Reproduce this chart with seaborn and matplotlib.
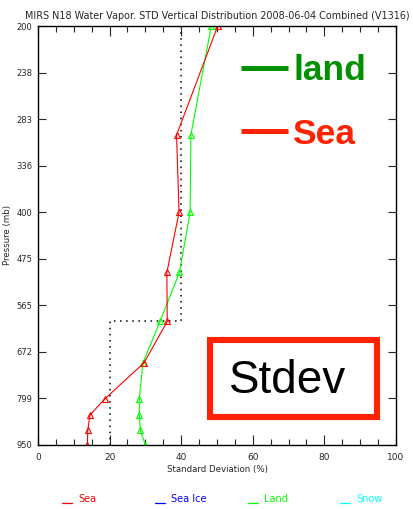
import matplotlib
matplotlib.use("Agg")
import matplotlib.pyplot as plt
from matplotlib.lines import Line2D
from matplotlib.patches import Rectangle
from matplotlib.ticker import FixedLocator, FixedFormatter, MultipleLocator, NullLocator
import seaborn as sns
import pandas as pd

# ---- data ----
pressure = [200, 300, 400, 500, 600, 700, 800, 850, 900, 950]
sea_std = [50.2, 38.7, 39.4, 36.0, 36.1, 29.6, 18.7, 14.5, 13.9, 13.8]
land_std = [48.4, 42.7, 42.5, 39.5, 34.1, 29.3, 28.3, 28.3, 28.6, 30.0]
ref_x = [40, 40, 20, 20]
ref_p = [200, 600, 600, 950]
y_ticks = [200, 238, 283, 336, 400, 475, 565, 672, 799, 950]
x_ticks = [0, 20, 40, 60, 80, 100]
legend_names = ["Sea", "Sea Ice", "Land", "Snow"]
legend_colors = ["#ff0000", "#0000ff", "#00ff00", "#00ffff"]

sns.set_style("white")
plt.rcParams["font.family"] = ["DejaVu Sans"]

fig = plt.figure(figsize=(4.14, 5.09), dpi=100)
ax = fig.add_axes([38/414, 1-445/509, (396-38)/414, (445-26)/509])

df_sea = pd.DataFrame({"std": sea_std, "p": pressure})
df_land = pd.DataFrame({"std": land_std, "p": pressure})

ax.plot(ref_x, ref_p, color="black", linestyle=(0, (1, 3)), linewidth=1.1)

sns.lineplot(data=df_land, x="std", y="p", sort=False, estimator=None, ax=ax,
             color="#00ff00", linewidth=0.8, marker="^", markersize=5,
             markerfacecolor="none", markeredgecolor="#00ff00", markeredgewidth=0.8)
sns.lineplot(data=df_sea, x="std", y="p", sort=False, estimator=None, ax=ax,
             color="#ff0000", linewidth=0.8, marker="^", markersize=5,
             markerfacecolor="none", markeredgecolor="#ff0000", markeredgewidth=0.8)

ax.set_yscale("log")
ax.set_ylim(950, 200)
ax.set_xlim(0, 100)
ax.yaxis.set_major_locator(FixedLocator(y_ticks))
ax.yaxis.set_major_formatter(FixedFormatter([str(t) for t in y_ticks]))
ax.yaxis.set_minor_locator(NullLocator())
ax.xaxis.set_major_locator(FixedLocator(x_ticks))
ax.xaxis.set_minor_locator(MultipleLocator(5))

ax.tick_params(axis="x", which="major", direction="in", length=7, width=0.8,
               top=True, bottom=True, labelsize=6.5, pad=6)
ax.tick_params(axis="x", which="minor", direction="in", length=4, width=0.8,
               top=True, bottom=True)
ax.tick_params(axis="y", which="major", direction="in", length=6, width=0.8,
               left=True, right=True, labelsize=6, pad=4)
for s in ax.spines.values():
    s.set_color("black")
    s.set_linewidth(1.0)

ax.set_xlabel("Standard Deviation (%)", fontsize=6.2, labelpad=2)
ax.set_ylabel("Pressure (mb)", fontsize=6.2)
ax.yaxis.set_label_coords(-0.072, 0.5)
ax.set_title("MIRS N18 Water Vapor. STD Vertical Distribution 2008-06-04 Combined (V1316)",
             fontsize=6.9, pad=5)

# bottom legend
lx = [62, 155, 248, 340]
for x0, name, c in zip(lx, legend_names, legend_colors):
    fig.add_artist(Line2D([x0/414, (x0+10)/414], [1-503/509, 1-503/509],
                          color=c, linewidth=0.9, transform=fig.transFigure))
    fig.text((x0+16)/414, 1-499/509, name, color=c, fontsize=7,
             ha="left", va="center")

# overlay annotations
fig.add_artist(Line2D([241/414, 288/414], [1-68/509, 1-68/509], color="#009000",
                      linewidth=3.6, transform=fig.transFigure, solid_capstyle="butt"))
fig.text(293/414, 1-70/509, "land", color="#009000", fontsize=25.5,
         fontweight="bold", family="Liberation Sans", ha="left", va="center")
fig.add_artist(Line2D([241/414, 288/414], [1-131/509, 1-131/509], color="#ff2200",
                      linewidth=3.6, transform=fig.transFigure, solid_capstyle="butt"))
fig.text(292/414, 1-134/509, "Sea", color="#ff2200", fontsize=25.5,
         fontweight="bold", family="Liberation Sans", ha="left", va="center")

fig.add_artist(Rectangle((210/414, 1-417/509), (377-210)/414, (417-340)/509,
                         transform=fig.transFigure, fill=True, facecolor="white",
                         edgecolor="#ff2200", linewidth=4.4))
fig.text(288/414, 1-381/509, "Stdev", color="black", fontsize=33,
         family="Liberation Sans", ha="center", va="center")

fig.savefig("out.png", dpi=100, facecolor="white")
